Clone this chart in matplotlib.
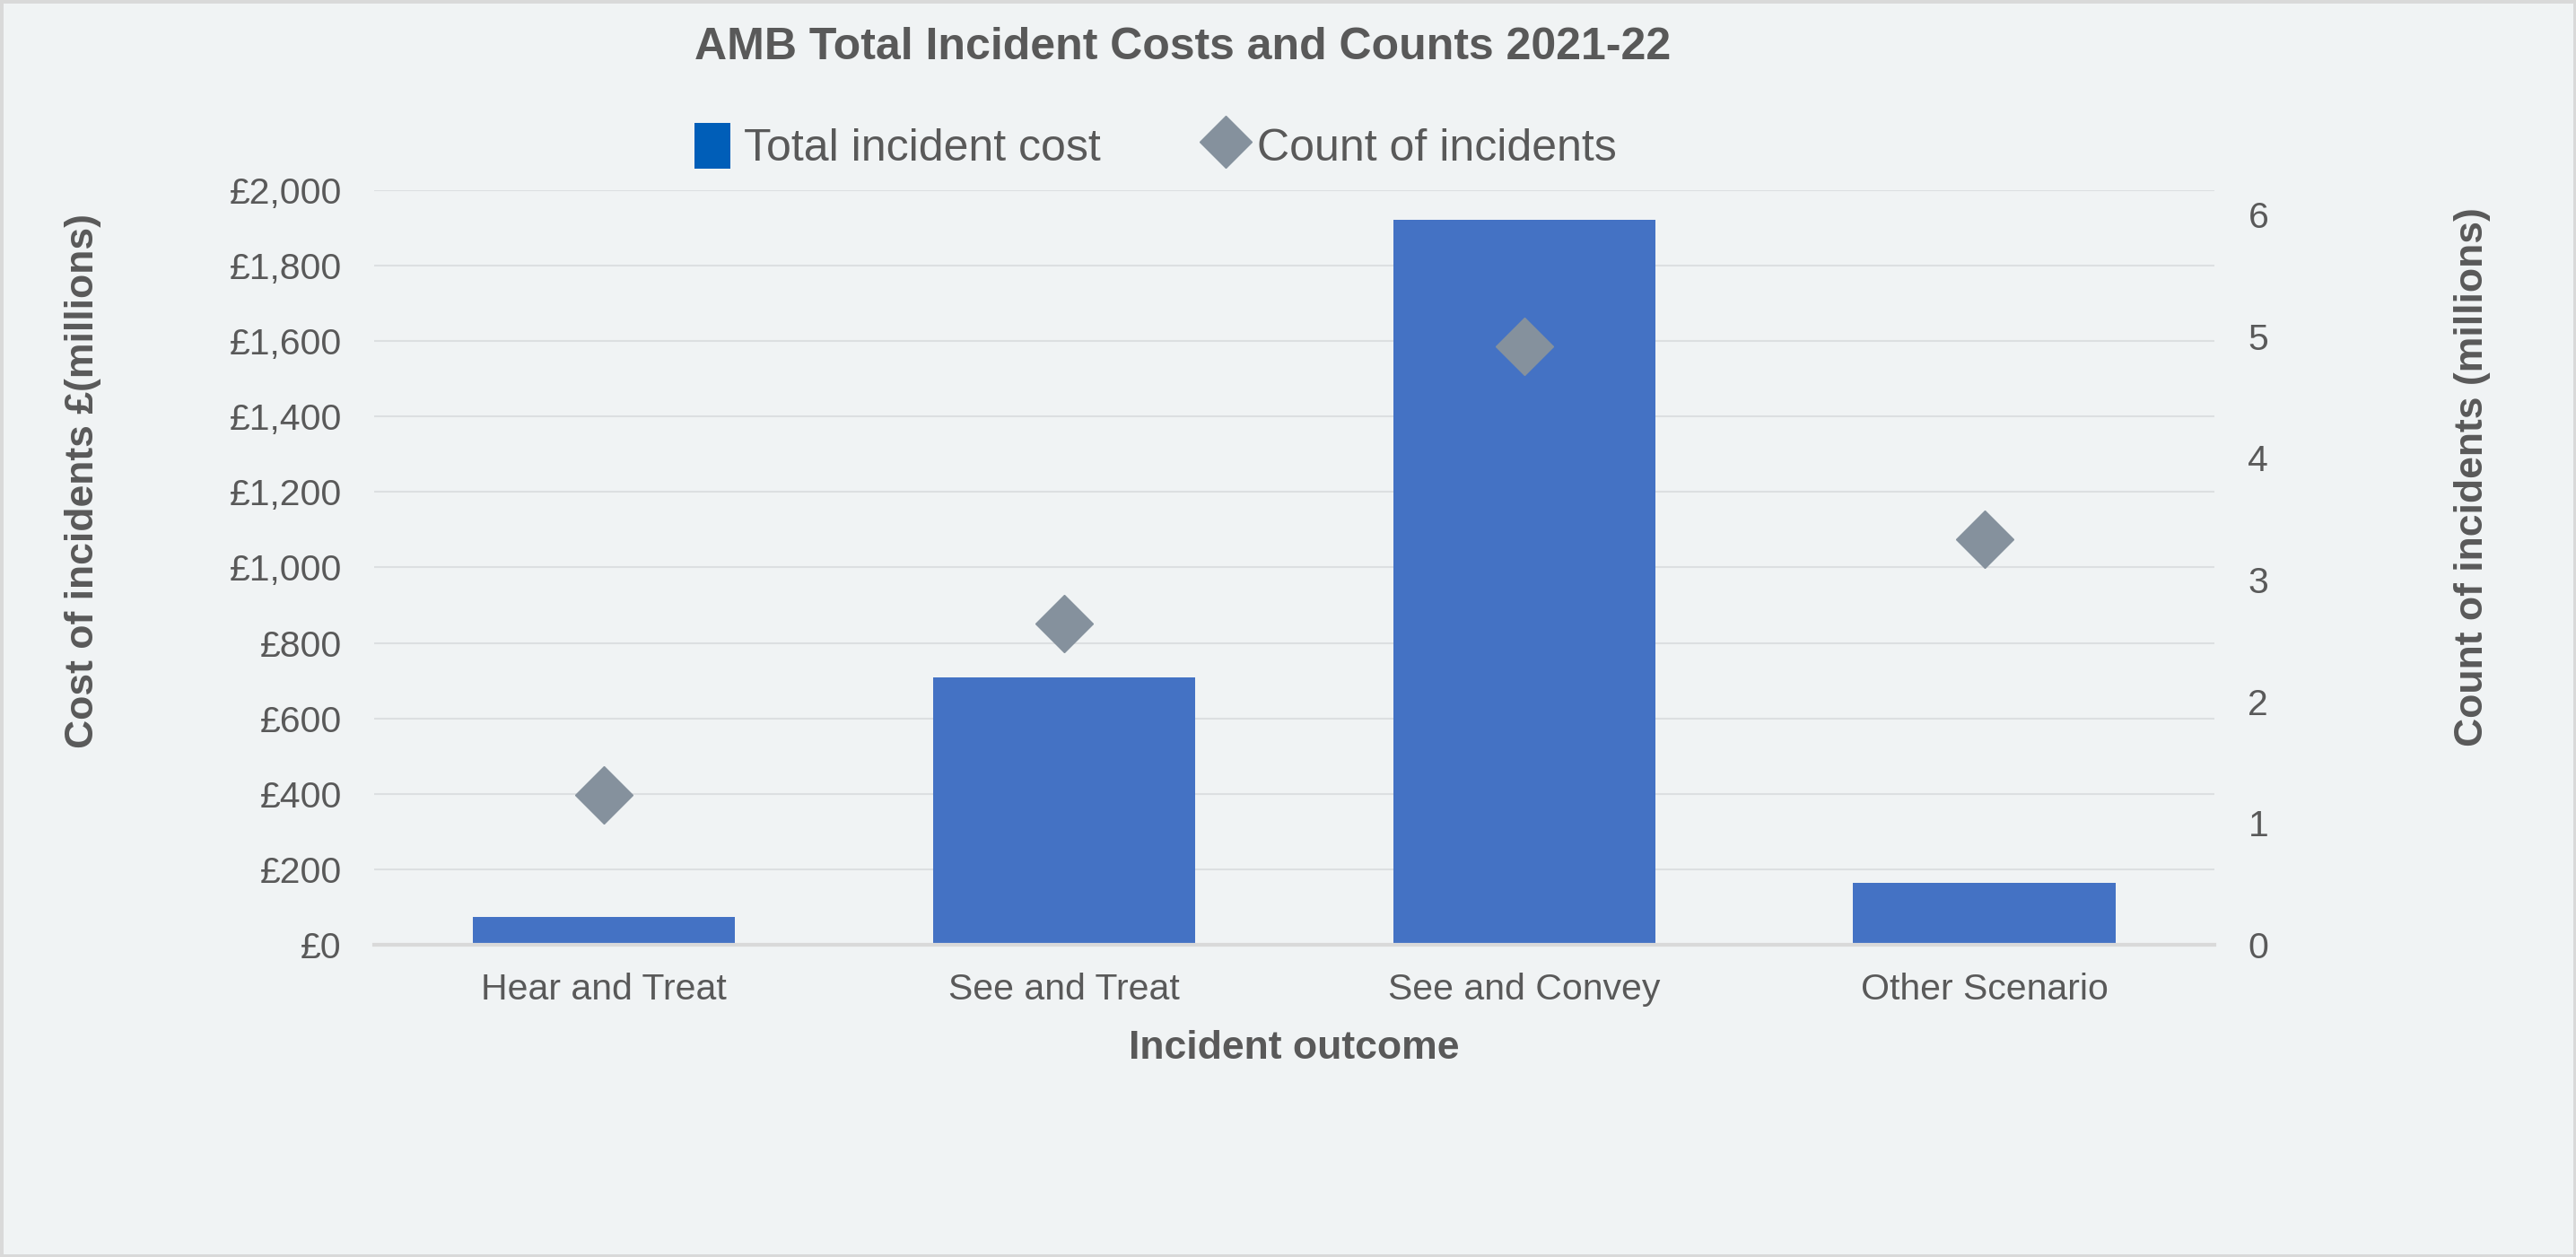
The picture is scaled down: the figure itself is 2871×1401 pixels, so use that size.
import matplotlib.pyplot as plt
from matplotlib.patches import Patch, Rectangle
from matplotlib.lines import Line2D
from matplotlib.ticker import FuncFormatter

plt.rcParams['font.family'] = ['Liberation Sans', 'DejaVu Sans']

# Data
categories = ['Hear and Treat', 'See and Treat', 'See and Convey', 'Other Scenario']
cost_millions = [74, 708, 1921, 164]       # £ millions (left axis)
count_millions = [1.23, 2.64, 4.92, 3.33]  # millions (right axis)

bg = '#F0F3F4'
text_col = '#595959'
bar_col = '#4472C4'
diamond_col = '#85919D'
grid_col = '#DCDFE1'

fig = plt.figure(figsize=(28.71, 14.01), dpi=100, facecolor=bg)
ax = fig.add_axes([0.1452, 0.2484, 0.7144, 0.6003])
ax.set_facecolor(bg)

x = list(range(len(categories)))
ax.bar(x, cost_millions, width=0.57, color=bar_col, zorder=2)
ax.set_xlim(-0.5, 3.5)
ax.set_ylim(0, 2000)
ax.set_yticks(range(0, 2001, 200))
ax.yaxis.set_major_formatter(FuncFormatter(lambda v, p: f'£{int(v):,}'))
ax.grid(axis='y', color=grid_col, linewidth=1.5, zorder=0)
ax.set_axisbelow(True)
for s in ['top', 'left', 'right']:
    ax.spines[s].set_visible(False)
ax.spines['bottom'].set_color('#D9D9D9')
ax.spines['bottom'].set_linewidth(3)
ax.set_xticks(x)
ax.set_xticklabels(categories)
ax.tick_params(axis='both', length=0, labelsize=29.5, labelcolor=text_col)
ax.tick_params(axis='x', pad=22)
ax.tick_params(axis='y', pad=26)

ax.set_xlabel('Incident outcome', fontsize=32, fontweight='bold', color=text_col)
ax.xaxis.set_label_coords(0.5, -0.113)
ax.set_ylabel('Cost of incidents £(millions)', fontsize=32, fontweight='bold', color=text_col)
ax.yaxis.set_label_coords(-0.148, 0.615)

ax2 = ax.twinx()
ax2.plot(x, count_millions, linestyle='none', marker='D', markersize=33,
         color=diamond_col, zorder=3)
ax2.set_ylim(0, 6.2)
ax2.set_yticks(range(0, 7))
for s in ax2.spines.values():
    s.set_visible(False)
ax2.tick_params(axis='y', length=0, labelsize=29.5, labelcolor=text_col, pad=27)
ax2.set_ylabel('Count of incidents (millions)', fontsize=32, fontweight='bold', color=text_col)
ax2.yaxis.set_label_coords(1.130, 0.62)

fig.text(0.459, 0.962, 'AMB Total Incident Costs and Counts 2021-22', ha='center', va='center',
         fontsize=36, fontweight='bold', color=text_col)

handles = [Patch(facecolor='#005EB8', edgecolor='none'),
           Line2D([], [], linestyle='none', marker='D', markersize=30, color=diamond_col)]
fig.legend(handles, ['Total incident cost', 'Count of incidents'], loc='center',
           bbox_to_anchor=(0.4486, 0.8837), ncol=2, frameon=False, fontsize=36,
           labelcolor=text_col, handlelength=0.8, handleheight=1.2, handletextpad=0.3,
           columnspacing=2.4)

# light border around the chart area
fig.patches.append(Rectangle((0, 0), 1, 1, transform=fig.transFigure, fill=False,
                             edgecolor='#D9D9D9', linewidth=5))

fig.savefig('out.png', dpi=100, facecolor=bg)
